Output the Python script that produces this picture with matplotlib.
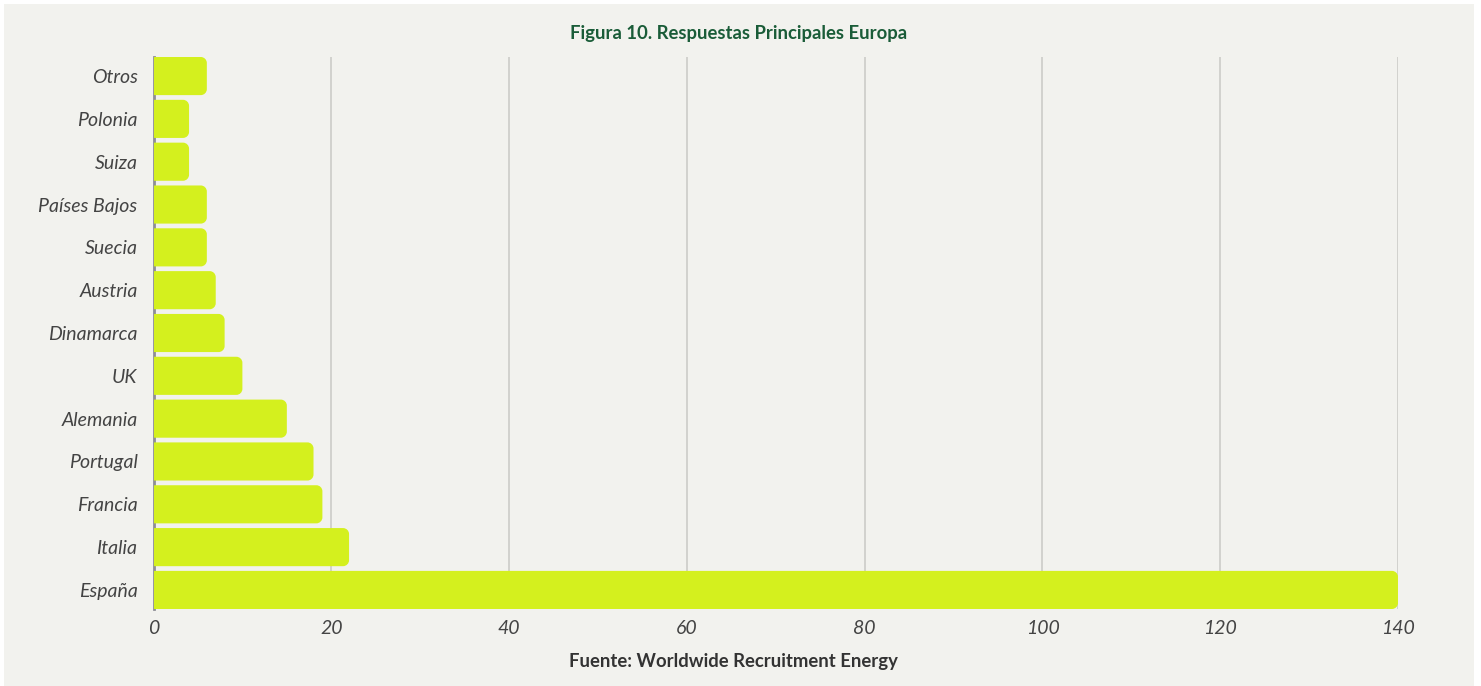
import numpy as np
import matplotlib
matplotlib.use('Agg')
from matplotlib import pyplot as plt
from matplotlib.path import Path
from matplotlib.patches import PathPatch, Rectangle

# respuestas por país (orden de arriba a abajo)
paises = ['Otros', 'Polonia', 'Suiza', 'Países Bajos', 'Suecia', 'Austria',
          'Dinamarca', 'UK', 'Alemania', 'Portugal', 'Francia', 'Italia', 'España']
respuestas = [6, 4, 4, 6, 6, 7, 8, 10, 15, 18, 19, 22, 140]
xticks = [0, 20, 40, 60, 80, 100, 120, 140]

titulo = 'Figura 10. Respuestas Principales Europa'
fuente = 'Fuente: Worldwide Recruitment Energy'

plt.rcParams['font.family'] = ['Lato', 'DejaVu Sans']

W, H = 1481, 686
fig = plt.figure(figsize=(W/100., H/100.), dpi=100, facecolor='white')
fig.patches.append(Rectangle((4./W, 0), (1474.-4)/W, (686.-4)/H, transform=fig.transFigure,
                             facecolor='#F2F2EE', edgecolor='none', zorder=-10))

# ejes: x=0 en 153.5px, x=140 en 1398px; de 57px a 609px en vertical
x0, x1 = 153.5, 1398.0
y_top, y_bot = 57.0, 609.0
ax = fig.add_axes([x0/W, (H-y_bot)/H, (x1-x0)/W, (y_bot-y_top)/H])
ax.set_facecolor('none')

h = 0.89
y = np.arange(len(paises))[::-1]
bars = ax.barh(y, respuestas, height=h, color='#D4F01E', zorder=3)
ax.set_xlim(0, 140)
ax.set_ylim(-h/2, len(paises)-1+h/2)

# esquinas redondeadas solo a la derecha
r_px = 6.0
bbox = ax.get_window_extent()
rx = r_px*140./bbox.width
ry = r_px*(ax.get_ylim()[1]-ax.get_ylim()[0])/bbox.height
k = 0.5523
for b in bars:
    bx, by, bw, bh = b.get_x(), b.get_y(), b.get_width(), b.get_height()
    xr = bx+bw
    verts = [(bx, by), (xr-rx, by),
             (xr-rx+k*rx, by), (xr, by+ry-k*ry), (xr, by+ry),
             (xr, by+bh-ry),
             (xr, by+bh-ry+k*ry), (xr-rx+k*rx, by+bh), (xr-rx, by+bh),
             (bx, by+bh), (bx, by)]
    codes = [Path.MOVETO, Path.LINETO,
             Path.CURVE4, Path.CURVE4, Path.CURVE4,
             Path.LINETO,
             Path.CURVE4, Path.CURVE4, Path.CURVE4,
             Path.LINETO, Path.CLOSEPOLY]
    ax.add_patch(PathPatch(Path(verts, codes), facecolor=b.get_facecolor(),
                           edgecolor='none', zorder=3))
    b.set_visible(False)

ax.set_xticks(xticks)
ax.set_yticks(y)
ax.set_yticklabels(paises)
ax.grid(axis='x', color='#CFCFCB', linewidth=1.3, zorder=1)
ax.grid(axis='y', visible=False)
for s in ['top', 'right', 'bottom']:
    ax.spines[s].set_visible(False)
ax.spines['left'].set_color('#8E8E96')
ax.spines['left'].set_linewidth(2)
ax.spines['left'].set_zorder(2)
ax.tick_params(axis='both', length=0, labelsize=14, labelcolor='#444444')
ax.tick_params(axis='y', pad=11.5)
ax.tick_params(axis='x', pad=8)
for lab in ax.get_xticklabels()+ax.get_yticklabels():
    lab.set_fontstyle('italic')

fig.text(738.5/W, 1-33./H, titulo, ha='center', va='center', fontsize=13.3,
         fontweight='bold', color='#1A5C38')
fig.text(733.5/W, 1-661./H, fuente, ha='center', va='center', fontsize=13.3,
         fontweight='bold', color='#333333')

fig.savefig('out.png', dpi=100, facecolor=fig.get_facecolor())
